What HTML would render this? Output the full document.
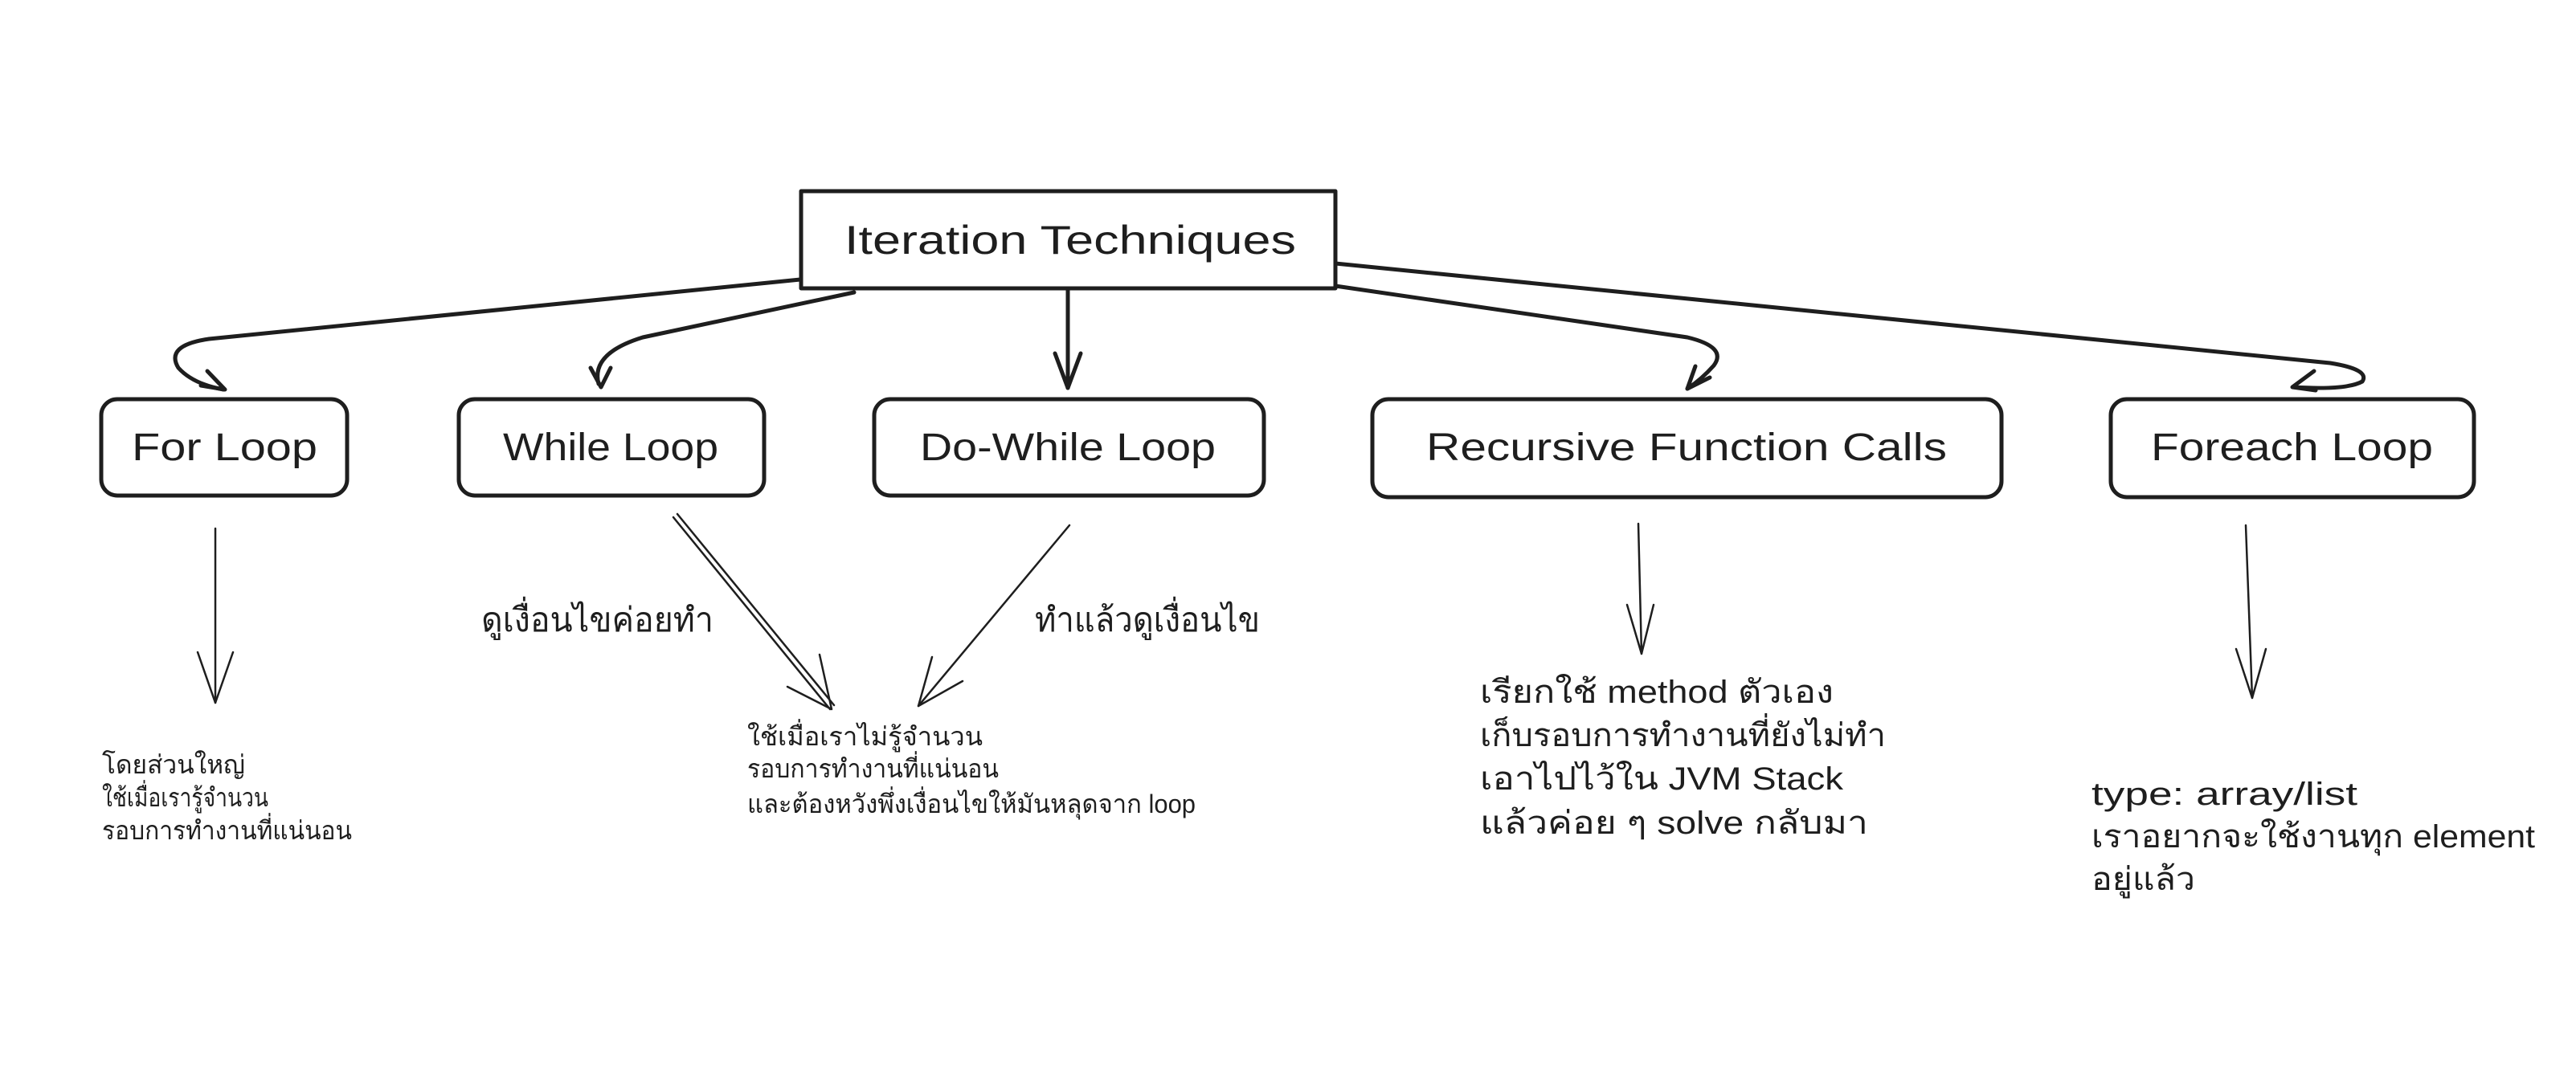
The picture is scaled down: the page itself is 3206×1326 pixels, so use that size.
<!DOCTYPE html>
<html><head><meta charset="utf-8">
<style>
html,body{margin:0;padding:0;background:#fff;}
svg{display:block;}
text{font-family:"Liberation Sans","Noto Sans CJK SC",sans-serif;fill:#1e1e1e;}
</style></head>
<body>
<svg width="3206" height="1326" viewBox="0 0 3206 1326" xmlns="http://www.w3.org/2000/svg">
<rect width="3206" height="1326" fill="#fff"/>
<g fill="none" stroke="#1e1e1e" stroke-linecap="round" stroke-linejoin="round">
  <!-- title box -->
  <rect x="997" y="238" width="665" height="121" stroke-width="5"/>
  <!-- child boxes -->
  <rect x="126" y="497" width="306" height="120" rx="20" stroke-width="5"/>
  <rect x="571" y="497" width="380" height="120" rx="20" stroke-width="5"/>
  <rect x="1088" y="497" width="485" height="120" rx="20" stroke-width="5"/>
  <rect x="1708" y="497" width="783" height="122" rx="20" stroke-width="5"/>
  <rect x="2627" y="497" width="452" height="122" rx="20" stroke-width="5"/>

  <!-- thick connectors -->
  <path d="M996,348 L260,422 Q205,430 222,458 Q240,478 278,485" stroke-width="5"/>
  <path d="M258,462 L280,485 L250,480" stroke-width="5"/>
  <path d="M1063,364 L800,420 Q735,440 745,478" stroke-width="5"/>
  <path d="M735,458 L748,482 L760,458" stroke-width="5"/>
  <path d="M1329,360 L1329,483" stroke-width="5"/>
  <path d="M1313,440 L1329,483 L1345,440" stroke-width="5"/>
  <path d="M1662,356 L2100,420 Q2150,432 2133,455 Q2118,472 2100,484" stroke-width="5"/>
  <path d="M2110,456 L2100,484 L2128,470" stroke-width="5"/>
  <path d="M1662,328 L2900,452 Q2950,460 2940,475 Q2920,486 2855,482" stroke-width="5"/>
  <path d="M2880,462 L2853,482 L2882,486" stroke-width="5"/>

  <!-- thin arrows -->
  <path d="M268,658 L268,875" stroke-width="2.5"/>
  <path d="M246,812 L268,875 L290,812" stroke-width="2.5"/>
  <path d="M838,644 L1033,883 M843,640 L1038,878" stroke-width="2.5"/>
  <path d="M980,855 L1035,883 L1020,815" stroke-width="2.5"/>
  <path d="M1331,654 L1143,879" stroke-width="2.5"/>
  <path d="M1160,818 L1143,879 L1198,848" stroke-width="2.5"/>
  <path d="M2039,652 L2043,814" stroke-width="2.5"/>
  <path d="M2025,753 L2043,814 L2058,753" stroke-width="2.5"/>
  <path d="M2795,654 L2803,869" stroke-width="2.5"/>
  <path d="M2783,808 L2803,869 L2820,808" stroke-width="2.5"/>
</g>

<!-- titles -->
<text x="1051" y="316" font-size="50" textLength="562" lengthAdjust="spacingAndGlyphs">Iteration Techniques</text>
<text x="164" y="573" font-size="48" textLength="231" lengthAdjust="spacingAndGlyphs">For Loop</text>
<text x="626" y="573" font-size="48" textLength="268" lengthAdjust="spacingAndGlyphs">While Loop</text>
<text x="1145" y="573" font-size="48" textLength="368" lengthAdjust="spacingAndGlyphs">Do-While Loop</text>
<text x="1775" y="573" font-size="48" textLength="648" lengthAdjust="spacingAndGlyphs">Recursive Function Calls</text>
<text x="2677" y="573" font-size="48" textLength="351" lengthAdjust="spacingAndGlyphs">Foreach Loop</text>

<!-- edge labels -->
<text x="599" y="786" font-size="42" textLength="289" lengthAdjust="spacingAndGlyphs">ดูเงื่อนไขค่อยทำ</text>
<text x="1288" y="786" font-size="42" textLength="280" lengthAdjust="spacingAndGlyphs">ทำแล้วดูเงื่อนไข</text>

<!-- middle block -->
<text x="930" y="928" font-size="32" textLength="293" lengthAdjust="spacingAndGlyphs">ใช้เมื่อเราไม่รู้จำนวน</text>
<text x="930" y="968" font-size="32" textLength="313" lengthAdjust="spacingAndGlyphs">รอบการทำงานที่แน่นอน</text>
<text x="930" y="1012" font-size="32" textLength="558" lengthAdjust="spacingAndGlyphs">และต้องหวังพึ่งเงื่อนไขให้มันหลุดจาก loop</text>

<!-- for block -->
<text x="127" y="963" font-size="32" textLength="178" lengthAdjust="spacingAndGlyphs">โดยส่วนใหญ่</text>
<text x="127" y="1004" font-size="32" textLength="207" lengthAdjust="spacingAndGlyphs">ใช้เมื่อเรารู้จำนวน</text>
<text x="127" y="1045" font-size="32" textLength="311" lengthAdjust="spacingAndGlyphs">รอบการทำงานที่แน่นอน</text>

<!-- recursive block -->
<text x="1842" y="875" font-size="40" textLength="440" lengthAdjust="spacingAndGlyphs">เรียกใช้ method ตัวเอง</text>
<text x="1842" y="929" font-size="40" textLength="505" lengthAdjust="spacingAndGlyphs">เก็บรอบการทำงานที่ยังไม่ทำ</text>
<text x="1842" y="983" font-size="40" textLength="452" lengthAdjust="spacingAndGlyphs">เอาไปไว้ใน JVM Stack</text>
<text x="1842" y="1038" font-size="40" textLength="483" lengthAdjust="spacingAndGlyphs">แล้วค่อย ๆ solve กลับมา</text>

<!-- foreach block -->
<text x="2603" y="1002" font-size="40" textLength="331" lengthAdjust="spacingAndGlyphs">type: array/list</text>
<text x="2603" y="1055" font-size="40" textLength="552" lengthAdjust="spacingAndGlyphs">เราอยากจะใช้งานทุก element</text>
<text x="2603" y="1108" font-size="40" textLength="129" lengthAdjust="spacingAndGlyphs">อยู่แล้ว</text>
</svg>
</body></html>
